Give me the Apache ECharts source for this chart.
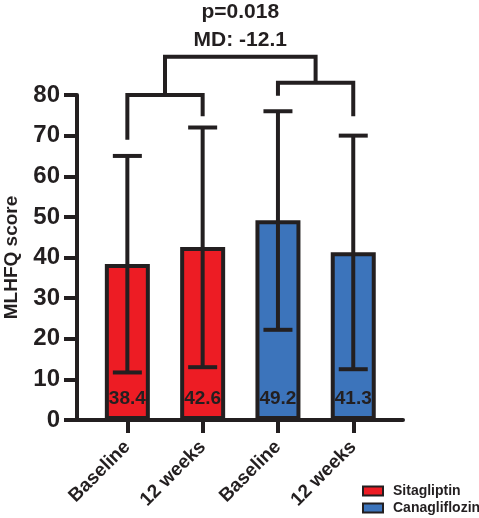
<!DOCTYPE html>
<html>
<head>
<meta charset="utf-8">
<script src="https://cdn.jsdelivr.net/npm/echarts@6/dist/echarts.min.js"></script>
<style>html,body{margin:0;padding:0;background:#fff}#c{width:479px;height:518px}</style>
</head>
<body>
<div id="c"></div>
<script>
// ---- data ----
const categories = ['Baseline', '12 weeks', 'Baseline', '12 weeks'];
const groups = ['Sitagliptin', 'Sitagliptin', 'Canagliflozin', 'Canagliflozin'];
const seriesNames = ['Sitagliptin', 'Canagliflozin'];
const means = [38.4, 42.6, 49.2, 41.3];
const errLow = [11.7, 13.0, 22.2, 12.5];
const errHigh = [65, 72, 76, 70];
const yTicks = [0, 10, 20, 30, 40, 50, 60, 70, 80];
// brackets: [fromCategory, toCategory, barLevel, leftLegEnd, rightLegEnd]
const brackets = [
  [0, 1, 80, 69, 74.8],
  [2, 3, 83, 79.8, 74.8],
  [0.5, 2.5, 89.4, 80, 83]
];
const statText = ['p=0.018', 'MD: -12.1'];
const yAxisName = 'MLHFQ score';

// ---- style ----
const DARK = '#231f20';
const COLORS = {Sitagliptin: '#ed1c24', Canagliflozin: '#3c74bb'};
const FONT = '"Liberation Sans", Arial, sans-serif';
const legendText = {fontSize: 14, fontWeight: 'bold', color: DARK, fontFamily: FONT, padding: [0, 0, 0, 5]};

const chart = echarts.init(document.getElementById('c'), null, {renderer: 'canvas'});

const barSeries = seriesNames.map(name => ({
  name: name,
  type: 'bar',
  xAxisIndex: 1, yAxisIndex: 1,
  barWidth: 45,
  barGap: '-100%',
  data: means.map((v, i) => groups[i] === name ? v : '-'),
  itemStyle: {color: COLORS[name], borderColor: DARK, borderWidth: 4},
  label: {
    show: true, position: 'insideBottom', distance: 12,
    formatter: p => p.value.toFixed(1),
    color: DARK, fontSize: 19, fontWeight: 'bold', fontFamily: FONT
  },
  z: 2
}));

const errorSeries = {
  type: 'custom',
  xAxisIndex: 1, yAxisIndex: 1,
  data: means.map((m, i) => [i, errLow[i], errHigh[i]]),
  encode: {x: 0, y: [1, 2]},
  z: 3,
  renderItem: function (params, api) {
    const lo = api.coord([api.value(0), api.value(1)]);
    const hi = api.coord([api.value(0), api.value(2)]);
    const hw = 14.5;
    const st = {stroke: DARK, lineWidth: 4, lineCap: 'butt'};
    return {type: 'group', children: [
      {type: 'line', shape: {x1: lo[0], y1: lo[1], x2: hi[0], y2: hi[1]}, style: st},
      {type: 'line', shape: {x1: lo[0] - hw, y1: lo[1], x2: lo[0] + hw, y2: lo[1]}, style: st},
      {type: 'line', shape: {x1: hi[0] - hw, y1: hi[1], x2: hi[0] + hw, y2: hi[1]}, style: st}
    ]};
  }
};

function catX(api, c) {
  const x0 = api.coord([0, 0])[0];
  const x1 = api.coord([1, 0])[0];
  return x0 + c * (x1 - x0);
}

const bracketSeries = {
  type: 'custom',
  xAxisIndex: 1, yAxisIndex: 1,
  clip: false,
  data: brackets,
  encode: {x: 0, y: 2},
  z: 4,
  renderItem: function (params, api) {
    const xa = catX(api, api.value(0));
    const xb = catX(api, api.value(1));
    const yBar = api.coord([0, api.value(2)])[1];
    const yl = api.coord([0, api.value(3)])[1];
    const yr = api.coord([0, api.value(4)])[1];
    const children = [{
      type: 'polyline',
      shape: {points: [[xa, yl], [xa, yBar], [xb, yBar], [xb, yr]]},
      style: {stroke: DARK, lineWidth: 4, fill: null, lineJoin: 'miter', lineCap: 'butt'}
    }];
    if (params.dataIndex === brackets.length - 1) {
      const xc = (xa + xb) / 2;
      const offs = [-45, -16.5];
      statText.forEach((t, k) => children.push({
        type: 'text',
        style: {text: t, x: xc, y: yBar + offs[k], align: 'center', verticalAlign: 'middle',
          fill: DARK, font: 'bold 21px ' + FONT}
      }));
    }
    return {type: 'group', children: children};
  }
};

const option = {
  animation: false,
  backgroundColor: '#fff',
  textStyle: {fontFamily: FONT},
  grid: [
    {left: 77, top: 95, width: 326, height: 325, containLabel: false, outerBoundsMode: 'none'},
    {left: 89.7, top: 95, width: 301.2, height: 325, containLabel: false, outerBoundsMode: 'none'}
  ],
  legend: {
    data: seriesNames.map(n => ({name: n, textStyle: legendText})),
    orient: 'vertical',
    left: 362, top: 484,
    padding: 0,
    itemWidth: 20, itemHeight: 9, itemGap: 3,
    icon: 'rect',
    itemStyle: {borderWidth: 2, borderColor: DARK},
    textStyle: legendText
  },
  xAxis: [
    {gridIndex: 0, type: 'category', data: [''],
      axisLine: {show: true, lineStyle: {color: DARK, width: 4}},
      axisTick: {show: false}, axisLabel: {show: false}, splitLine: {show: false}},
    {gridIndex: 1, type: 'category', data: categories,
      axisLine: {show: false},
      axisTick: {show: true, alignWithLabel: true, length: 13, lineStyle: {color: DARK, width: 4}},
      axisLabel: {rotate: 45, margin: 24, fontSize: 19, fontWeight: 'bold', color: DARK, fontFamily: FONT, interval: 0},
      splitLine: {show: false}}
  ],
  yAxis: [
    {gridIndex: 0, type: 'value', min: yTicks[0], max: yTicks[yTicks.length - 1], interval: yTicks[1] - yTicks[0],
      name: yAxisName, nameLocation: 'middle', nameRotate: 90, nameGap: 56,
      nameTextStyle: {fontSize: 19, fontWeight: 'bold', color: DARK, fontFamily: FONT},
      axisLine: {show: true, lineStyle: {color: DARK, width: 4}},
      axisTick: {show: true, length: 13, lineStyle: {color: DARK, width: 4}},
      axisLabel: {fontSize: 24, fontWeight: 'bold', color: DARK, margin: 17, fontFamily: FONT},
      splitLine: {show: false}},
    {gridIndex: 1, type: 'value', min: yTicks[0], max: yTicks[yTicks.length - 1], show: false}
  ],
  series: [...barSeries, errorSeries, bracketSeries]
};
chart.setOption(option);
</script>
</body>
</html>
